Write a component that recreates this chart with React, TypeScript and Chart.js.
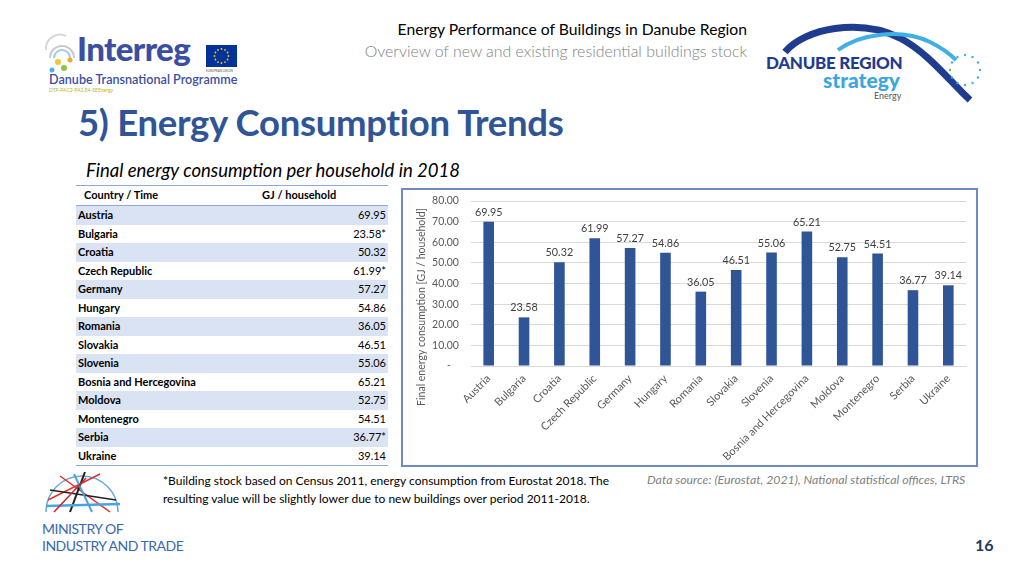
import React, { useEffect, useRef } from "react";
import { Chart, registerables } from "chart.js";

Chart.register(...registerables);

const countries = [
  "Austria", "Bulgaria", "Croatia", "Czech Republic", "Germany", "Hungary", "Romania",
  "Slovakia", "Slovenia", "Bosnia and Hercegovina", "Moldova", "Montenegro", "Serbia", "Ukraine",
];
const gjPerHousehold = [69.95, 23.58, 50.32, 61.99, 57.27, 54.86, 36.05, 46.51, 55.06, 65.21, 52.75, 54.51, 36.77, 39.14];
const tableMarks = ["", "*", "", "*", "", "", "", "", "", "", "", "", "*", ""];
const yTicks = [0, 10, 20, 30, 40, 50, 60, 70, 80];
const yTitle = "Final energy consumption [GJ / household]";

const FONT = "Lato, 'Open Sans', sans-serif";

const valueLabels = {
  id: "valueLabels",
  afterDatasetsDraw(chart: any) {
    const ctx = chart.ctx;
    const meta = chart.getDatasetMeta(0);
    ctx.save();
    ctx.font = "10.8px Lato";
    ctx.fillStyle = "#404040";
    ctx.textAlign = "center";
    ctx.textBaseline = "bottom";
    meta.data.forEach((bar: any, i: number) => {
      ctx.fillText(gjPerHousehold[i].toFixed(2), bar.x, bar.y - 4);
    });
    ctx.restore();
  },
};

const yTitlePlugin = {
  id: "yTitlePlugin",
  afterDraw(chart: any) {
    const ctx = chart.ctx;
    const yScale = chart.scales.y;
    ctx.save();
    ctx.font = "10.5px Lato";
    ctx.fillStyle = "#595959";
    ctx.textAlign = "center";
    ctx.textBaseline = "middle";
    ctx.translate(yScale.left + 19, yScale.bottom - 59);
    ctx.rotate(-Math.PI / 2);
    ctx.fillText(yTitle, 0, 0);
    ctx.restore();
  },
};

function BarChart() {
  const ref = useRef<HTMLCanvasElement>(null);
  useEffect(() => {
    if (!ref.current) return;
    const chart = new Chart(ref.current, {
      type: "bar",
      data: {
        labels: countries,
        datasets: [
          {
            data: gjPerHousehold,
            backgroundColor: "#2f5597",
            borderWidth: 0,
            barPercentage: 0.3,
            categoryPercentage: 1,
          },
        ],
      },
      options: {
        animation: false,
        responsive: false,
        maintainAspectRatio: false,
        layout: { padding: { left: 0, right: 10, top: 11, bottom: 0 } },
        plugins: { legend: { display: false }, tooltip: { enabled: false } },
        scales: {
          x: {
            grid: { display: false, drawTicks: false },
            border: { display: true, color: "#d9d9d9" },
            ticks: {
              autoSkip: false,
              minRotation: 45,
              maxRotation: 45,
              padding: 6,
              color: "#595959",
              font: { family: "Lato", size: 11 },
            },
            afterFit: (s: any) => {
              s.height = 99;
            },
          },
          y: {
            min: 0,
            max: 80,
            afterBuildTicks: (s: any) => {
              s.ticks = yTicks.map((v) => ({ value: v }));
            },
            grid: { color: "#d9d9d9", drawTicks: false },
            border: { display: false },
            ticks: {
              padding: 4,
              color: "#595959",
              font: { family: "Lato", size: 10.5 },
              callback: (v: any) => (Number(v) === 0 ? "-      " : Number(v).toFixed(2) + "   "),
            },
            title: { display: false },
            afterFit: (s: any) => {
              s.width = 68;
            },
          },
        },
      },
      plugins: [valueLabels, yTitlePlugin],
    });
    return () => chart.destroy();
  }, []);
  return <canvas ref={ref} width={573} height={275} style={{ display: "block" }} />;
}

const abs = (l: number, t: number, extra: any = {}) => ({ position: "absolute" as const, left: l, top: t, ...extra });

function InterregLogo() {
  return (
    <div style={abs(44, 24, { width: 200, height: 72 })}>
      <svg width="36" height="50" style={{ position: "absolute", left: 0, top: 4 }}>
        <path d="M6 30 a12 12 0 0 1 24 0" fill="none" stroke="#c9c9c9" strokeWidth="2" />
        <path d="M10 30 a8 8 0 0 1 16 0" fill="none" stroke="#9dcbe8" strokeWidth="2" />
        <path d="M2 22 a14 14 0 0 1 20 -14" fill="none" stroke="#d7d7d7" strokeWidth="2" />
        <circle cx="14" cy="34" r="3" fill="#f2c53d" />
        <circle cx="20" cy="40" r="3" fill="#8cc63f" />
        <circle cx="8" cy="42" r="2.5" fill="#4fb3e8" />
        <circle cx="26" cy="32" r="2.5" fill="#f6a623" />
      </svg>
      <div style={abs(33, 4, { fontFamily: FONT, fontWeight: 900, fontSize: 33, color: "#3b4ea2", letterSpacing: -0.6 })}>Interreg</div>
      <div style={abs(162, 21, { width: 31, height: 22, background: "#003399" })}>
        <svg width="31" height="22">
          {Array.from({ length: 12 }).map((_, i) => {
            const a = (i / 12) * Math.PI * 2;
            return <circle key={i} cx={15.5 + 7 * Math.cos(a)} cy={11 + 7 * Math.sin(a)} r="0.9" fill="#ffcc00" />;
          })}
        </svg>
      </div>
      <div style={abs(162, 45, { fontFamily: FONT, fontSize: 3, color: "#555" })}>EUROPEAN UNION</div>
      <div style={abs(5, 48, { fontFamily: FONT, fontSize: 12.6, fontWeight: 600, color: "#3b4ea2", whiteSpace: "nowrap" })}>Danube Transnational Programme</div>
      <div style={abs(5, 63, { fontFamily: FONT, fontSize: 5, color: "#b5b82c", whiteSpace: "nowrap" })}>DTP-PAC2-PA2.E4-SEEnergy</div>
    </div>
  );
}

function DanubeLogo() {
  return (
    <div style={abs(760, 20, { width: 240, height: 85 })}>
      <svg width="240" height="85" style={{ position: "absolute", left: 0, top: 0 }}>
        <path d="M25 32 C45 8 100 -2 140 18 C170 34 190 62 210 80" fill="none" stroke="#1f3c8f" strokeWidth="7" />
        <path d="M78 30 C100 14 140 8 170 22 C182 28 190 34 196 40" fill="none" stroke="#3fb0e5" strokeWidth="4" />
        {Array.from({ length: 12 }).map((_, i) => {
          const a = (i / 12) * Math.PI * 2;
          return <circle key={i} cx={205 + 15 * Math.cos(a)} cy={50 + 15 * Math.sin(a)} r="1.2" fill="#3fb0e5" />;
        })}
      </svg>
      <div style={abs(6, 32, { fontFamily: FONT, fontWeight: 900, fontSize: 17, color: "#1f3c8f", whiteSpace: "nowrap", letterSpacing: -0.3 })}>DANUBE REGION</div>
      <div style={abs(63, 47, { fontFamily: FONT, fontWeight: 900, fontSize: 21, color: "#3aa7df", whiteSpace: "nowrap" })}>strategy</div>
      <div style={abs(114, 70, { fontFamily: FONT, fontSize: 9, color: "#555", whiteSpace: "nowrap" })}>Energy</div>
    </div>
  );
}

function MinistryLogo() {
  return (
    <div style={abs(40, 470, { width: 160, height: 85 })}>
      <svg width="90" height="50" style={{ position: "absolute", left: 0, top: 0 }}>
        <path d="M6 42 A36 36 0 0 1 78 42" fill="none" stroke="#6aa9d8" strokeWidth="1.5" />
        <line x1="8" y1="30" x2="60" y2="4" stroke="#e03030" strokeWidth="1.5" />
        <line x1="20" y1="6" x2="70" y2="42" stroke="#e03030" strokeWidth="1.5" />
        <line x1="30" y1="42" x2="45" y2="2" stroke="#222" strokeWidth="2" />
        <line x1="10" y1="20" x2="76" y2="30" stroke="#222" strokeWidth="1.5" />
        <line x1="52" y1="42" x2="34" y2="4" stroke="#4aa3d9" strokeWidth="2" />
        <line x1="6" y1="36" x2="80" y2="34" stroke="#4aa3d9" strokeWidth="2.5" />
        <line x1="46" y1="8" x2="14" y2="42" stroke="#c23" strokeWidth="1.5" />
      </svg>
      <div style={abs(2, 50, { fontFamily: FONT, fontSize: 14, color: "#3569b0", whiteSpace: "nowrap", lineHeight: "17px", letterSpacing: -0.5 })}>
        MINISTRY OF
        <br />
        INDUSTRY AND TRADE
      </div>
    </div>
  );
}

function DataTable() {
  return (
    <div style={abs(76, 185, { width: 312 })}>
      <div style={{ borderTop: "1.5px solid #8eaadb", borderBottom: "1.5px solid #8eaadb", height: 19, position: "relative", fontFamily: FONT, fontWeight: 700, fontSize: 11, color: "#000" }}>
        <div style={abs(8, 2)}>Country / Time</div>
        <div style={abs(186, 2)}>GJ / household</div>
      </div>
      {countries.map((c, i) => (
        <div
          key={c}
          style={{
            height: 18.5,
            background: i % 2 === 0 ? "#dae3f3" : "#ffffff",
            position: "relative",
            fontFamily: FONT,
            fontSize: 11,
            color: "#000",
            lineHeight: "18.5px",
          }}
        >
          <span style={{ position: "absolute", left: 2, fontWeight: 700 }}>{c}</span>
          <span style={{ position: "absolute", right: 2 }}>{gjPerHousehold[i].toFixed(2) + tableMarks[i]}</span>
        </div>
      ))}
      <div style={{ borderTop: "1.5px solid #8eaadb" }} />
    </div>
  );
}

export default function App() {
  return (
    <div style={{ position: "absolute", left: 0, top: 0, width: 1024, height: 576, background: "#fff", overflow: "hidden" }}>
      <InterregLogo />
      <DanubeLogo />
      <div style={abs(0, 20, { width: 747, textAlign: "right", fontFamily: FONT, fontSize: 15.7, color: "#000", whiteSpace: "nowrap" })}>
        Energy Performance of Buildings in Danube Region
      </div>
      <div style={abs(0, 41, { width: 747, textAlign: "right", fontFamily: FONT, fontWeight: 300, fontSize: 15.9, color: "#7f7f7f", whiteSpace: "nowrap" })}>
        Overview of new and existing residential buildings stock
      </div>
      <div style={abs(78, 100, { fontFamily: FONT, fontWeight: 700, fontSize: 36.5, color: "#2f5597", whiteSpace: "nowrap", letterSpacing: -0.3 })}>
        5) Energy Consumption Trends
      </div>
      <div style={abs(86, 159, { fontFamily: FONT, fontStyle: "italic", fontSize: 18.5, color: "#000", whiteSpace: "nowrap" })}>
        Final energy consumption per household in 2018
      </div>
      <DataTable />
      <div style={abs(401, 188, { width: 573, height: 275, border: "2px solid #6f89c3" })}>
        <BarChart />
      </div>
      <div style={abs(163, 472, { fontFamily: FONT, fontSize: 12, color: "#000", lineHeight: "18px", whiteSpace: "nowrap" })}>
        *Building stock based on Census 2011, energy consumption from Eurostat 2018. The
        <br />
        resulting value will be slightly lower due to new buildings over period 2011-2018.
      </div>
      <div style={abs(647, 472, { fontFamily: FONT, fontStyle: "italic", fontSize: 12.3, color: "#7f7f7f", whiteSpace: "nowrap" })}>
        Data source: (Eurostat, 2021), National statistical offices, LTRS
      </div>
      <MinistryLogo />
      <div style={abs(975, 535, { fontFamily: FONT, fontWeight: 700, fontSize: 16, color: "#1f3864" })}>16</div>
    </div>
  );
}
